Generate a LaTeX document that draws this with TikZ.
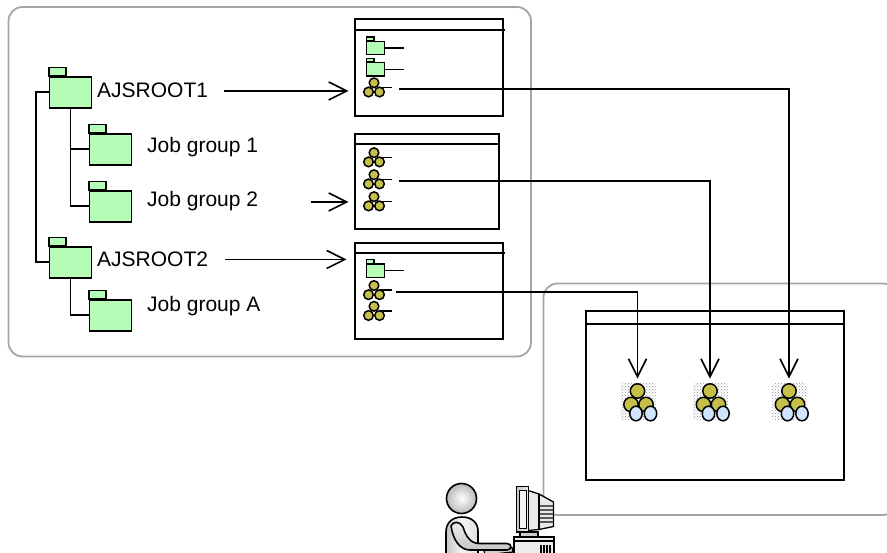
\documentclass[tikz,border=0pt]{standalone}
\usepackage{fontspec}
\setmainfont{Liberation Sans}
\usetikzlibrary{arrows.meta,patterns}
\definecolor{foldergreen}{RGB}{182,252,182}
\definecolor{jobolive}{RGB}{198,192,74}
\definecolor{jobblue}{RGB}{206,228,255}
\definecolor{panelgray}{RGB}{165,165,165}

\begin{document}
\begin{tikzpicture}[x=1pt,y=-1pt,
  panel/.style={draw=panelgray, line width=1.8pt, rounded corners=14pt},
  win/.style={draw=black, line width=2pt, fill=white, inner sep=0pt, anchor=north west},
  titlebar/.style={draw=black, line width=2pt},
  tree/.style={draw=black, line width=1.7pt},
  wire/.style={draw=black, line width=1.6pt},
  link/.style={wire, -{Straight Barb[length=18pt,width=18pt]}},
  label/.style={anchor=west, inner sep=0pt, font=\fontsize{21}{25}\selectfont},
  foldertab/.style={draw=black, fill=foldergreen},
  folderbody/.style={draw=black, fill=foldergreen, inner sep=0pt, anchor=north west},
  ball/.style={draw=black, line width=1.5pt, fill=jobolive},
  lens/.style={draw=black, line width=1.5pt, fill=jobblue},
  % large folder of the tree
  bigfolder/.pic={
    \draw[foldertab, line width=1.7pt] (0.5,0) rectangle (17.5,-8.5);
    \node[folderbody, line width=1.7pt, minimum width=42pt, minimum height=31pt] (-body) at (0,0) {};
  },
  % small folder entry of a list window
  smallfolder/.pic={
    \draw[foldertab, line width=1.3pt] (0.5,0) rectangle (8,-3.8);
    \node[folderbody, line width=1.3pt, minimum width=18pt, minimum height=13.5pt] (-body) at (0,0) {};
    \draw[line width=1.5pt] (-body.east) -- ++(19,0);
  },
  % small jobnet entry of a list window
  smalljob/.pic={
    \draw[line width=1.4pt] (6,4.7) -- (18,4.7);
    \draw[ball] (0,0) circle (4.8);
    \draw[ball] (-5.5,9.2) circle (4.8);
    \draw[ball] (5.5,9.2) circle (4.8);
    \coordinate (-out) at (25,6.3);
  },
  % jobnet being monitored
  bigjob/.pic={
    \fill[pattern=crosshatch dots, pattern color=gray!85, rounded corners=3pt] (-17,-8) rectangle (18,29);
    \node[circle, ball, minimum size=14.4pt, inner sep=0pt] (-top) at (0,0) {};
    \draw[ball] (-6.5,13.5) circle (7.2);
    \draw[ball] (8.5,13.5) circle (7.2);
    \draw[lens] (-1.5,22.5) ellipse (6.2 and 7.3);
    \draw[lens] (13,22.5) ellipse (6.2 and 7.3);
  }
]
\useasboundingbox (0,0) rectangle (887,553);
\clip (0,0) rectangle (887,553);
\fill[white] (0,0) rectangle (887,553);

% ---- panels ----
\draw[panel] (8.5,7) rectangle (531,356.5);
\draw[panel] (543.5,283.5) rectangle (897,515);

% ---- folder tree ----
\pic (R1) at (48.5,76) {bigfolder};
\pic (G1) at (88.5,133) {bigfolder};
\pic (G2) at (88.5,190) {bigfolder};
\pic (R2) at (48.5,246) {bigfolder};
\pic (GA) at (88.5,299) {bigfolder};

\draw[tree] (R1-body.west) -- ++(-12.5,0) |- (R2-body.west);
\draw[tree] (R1-body.south) |- (G1-body.west);
\draw[tree] (R1-body.south) |- (G2-body.west);
\draw[tree] (R2-body.south) |- (GA-body.west);

\node[label] (T1) at (97,90) {AJSROOT1};
\node[label] (TG1) at (147,147) {Job group 1};
\node[label] (TG2) at (147,201) {Job group 2};
\node[label] (T2) at (97,259.5) {AJSROOT2};
\node[label] (TGA) at (147,306) {Job group A};

% ---- list windows ----
\node[win, minimum width=148pt, minimum height=97pt] (W1) at (353.5,18) {};
\draw[titlebar] ([yshift=-12.5pt]W1.north west) -- ([yshift=-12.5pt,xshift=1.5pt]W1.north east);
\node[win, minimum width=144.5pt, minimum height=95pt] (W2) at (353.5,133) {};
\draw[titlebar] ([yshift=-11.5pt]W2.north west) -- ([yshift=-11.5pt]W2.north east);
\node[win, minimum width=148pt, minimum height=96pt] (W3) at (353.5,242) {};
\draw[titlebar] ([yshift=-11.5pt]W3.north west) -- ([yshift=-11.5pt,xshift=1.5pt]W3.north east);

\pic (F11) at (366,40.7) {smallfolder};
\pic (F12) at (366,62) {smallfolder};
\pic (J11) at (374,82.8) {smalljob};

\pic (J21) at (374,152.7) {smalljob};
\pic (J22) at (374,174.7) {smalljob};
\pic (J23) at (374,196.7) {smalljob};

\pic (F31) at (366,263.3) {smallfolder};
\pic (J31) at (374,285.5) {smalljob};
\pic (J32) at (374,306.3) {smalljob};

% ---- monitoring window ----
\node[win, minimum width=258pt, minimum height=169pt] (MW) at (584.5,310) {};
\draw[titlebar] ([yshift=-14pt]MW.north west) -- ([yshift=-14pt]MW.north east);

\pic (I1) at (637.5,391) {bigjob};
\pic (I2) at (710,391) {bigjob};
\pic (I3) at (789,391) {bigjob};

% ---- arrows from the tree to the windows ----
\draw[link, shorten >=5pt] ([xshift=16pt,yshift=-1pt]T1.east) -- ([yshift=-1pt]T1.east -| W1.west);
\draw[link, shorten >=5pt] ([xshift=53pt,yshift=-1pt]TG2.east) -- ([yshift=-1pt]TG2.east -| W2.west);
\draw[link, shorten >=7pt] ([xshift=17pt]T2.east) -- (T2.east -| W3.west);

% ---- jobnets registered for monitoring ----
\draw[link, shorten >=4.5pt] (J11-out) -| (I3-top.north);
\draw[link, shorten >=4.5pt] (J22-out) -| (I2-top.north);
\draw[link, shorten >=4.5pt] ([xshift=-3pt]J31-out) -| (I1-top.north);

% ---- operator at the terminal ----
% keyboard
\draw[line width=1.3pt, fill=gray!35] (484,550.5) -- (512,547.5) -- (513,552) -- (485,555) -- cycle;
% torso
\shadedraw[line width=1.6pt, left color=gray!45, right color=gray!25, middle color=gray!8]
  (446,560) -- (446,532) .. controls (446,523) and (452,517) .. (462,517)
  .. controls (472,517) and (478,523) .. (478,531) -- (478,560) -- cycle;
% arm
\shadedraw[line width=1.6pt, top color=gray!15, bottom color=gray!45]
  (451,526) .. controls (453,540) and (460,550) .. (470,550) -- (507,550)
  .. controls (512,550) and (512,543.5) .. (507,543.5) -- (479,543.5)
  .. controls (471,543.5) and (466,537) .. (463,527)
  .. controls (460,521) and (453,521) .. cycle;
% head
\shadedraw[line width=1.6pt, inner color=white, outer color=gray!55] (461.5,498.5) circle (15);

% monitor housing
\draw[line width=1.3pt, fill=gray!18]
  (528,490.5) -- (539,494) -- (553.5,502) -- (553.5,526.5) -- (539,529.5) -- (528,530.5) -- cycle;
\foreach \yy in {506,510,514,518,522} \draw[line width=1.4pt, gray!70!black] (539.5,\yy) -- (553,\yy);
\draw[line width=1.3pt] (539,494) -- (539,529.5);
% monitor front
\shadedraw[line width=1.5pt, left color=gray!45, right color=gray!15] (516.5,486.5) rectangle (528.5,532);
\draw[line width=1pt, fill=gray!10] (519.5,490.5) rectangle (526,528);
% stand
\draw[line width=1.3pt, fill=gray!40] (520,532) rectangle (538,536.5);
% system unit
\draw[line width=1.4pt, fill=gray!15] (514,537) rectangle (554,560);
\draw[line width=1.1pt] (514,541) -- (554,541);
\foreach \xx in {541,544,547,550} \draw[line width=1.3pt] (\xx,545) -- (\xx,556);
\end{tikzpicture}
\end{document}
